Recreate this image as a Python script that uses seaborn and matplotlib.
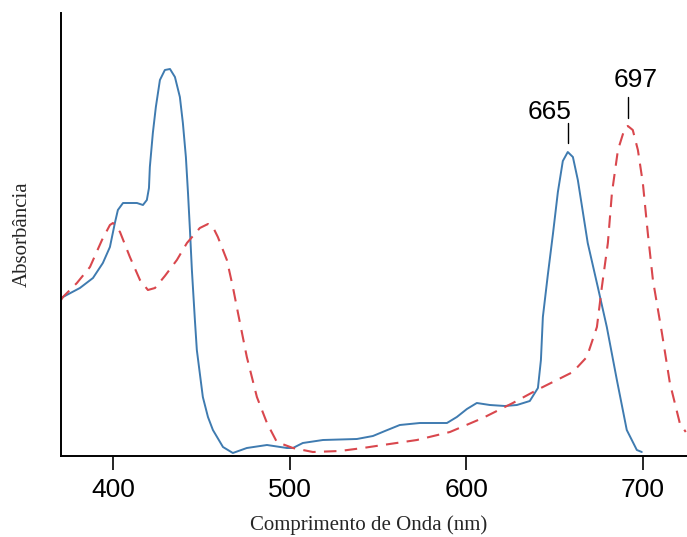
import matplotlib
matplotlib.use("Agg")
import matplotlib.pyplot as plt
import seaborn as sns
import pandas as pd

# Blue (solid) spectrum: wavelength (nm) and absorbance (arbitrary units)
blue_nm = [370.6, 371.7, 381.3, 388.7, 394.3, 398.3, 401.1, 402.8, 405.7, 409.6,
           413.6, 417.0, 419.2, 420.4, 420.9, 422.6, 424.3, 426.6, 429.4, 432.3,
           435.1, 437.9, 439.6, 441.3, 442.5, 443.6, 444.7, 446.4, 447.5, 450.9,
           453.8, 456.6, 462.3, 467.9, 475.8, 487.2, 498.5, 501.9, 507.5, 518.9,
           538.1, 547.2, 554.0, 562.4, 573.8, 589.1, 594.7, 600.4, 606.0, 613.4,
           621.9, 628.7, 636.0, 640.6, 642.3, 643.4, 646.2, 649.1, 651.9, 654.7,
           657.5, 660.4, 663.2, 668.8, 674.5, 679.6, 685.3, 690.9, 696.6, 699.4]
blue_abs = [157, 159, 168, 178, 193, 209, 233, 246, 253, 253,
            253, 251, 256, 268, 289, 323, 349, 376, 386, 387,
            379, 359, 333, 299, 263, 226, 186, 136, 106, 59,
            39, 26, 9, 3, 8, 11, 8, 8, 13, 16,
            17, 20, 25, 31, 33, 33, 39, 47, 53, 51,
            50, 51, 55, 68, 96, 139, 181, 222, 264, 295,
            304, 299, 276, 213, 169, 129, 76, 26, 6, 4]

# Red (dashed) spectrum
red_nm = [370.6, 371.7, 379.6, 387.0, 393.8, 398.3, 400.0, 404.0, 409.6, 415.3,
          419.8, 423.8, 429.4, 436.2, 441.9, 449.2, 453.8, 456.6, 459.4, 464.5,
          467.9, 470.8, 475.8, 481.5, 487.2, 492.8, 501.9, 513.2, 528.5, 541.5,
          552.8, 572.1, 590.8, 609.4, 626.4, 640.0, 660.4, 668.3, 674.0, 676.8,
          680.2, 682.5, 685.9, 689.8, 691.5, 694.3, 697.2, 700.0, 702.8, 705.7,
          710.8, 715.3, 720.9, 724.3]
red_abs = [156, 159, 173, 189, 216, 231, 233, 224, 199, 176,
           166, 168, 180, 196, 213, 228, 232, 229, 219, 196,
           169, 143, 99, 59, 33, 14, 8, 4, 5, 8,
           11, 16, 24, 38, 53, 66, 84, 99, 129, 169,
           213, 263, 306, 328, 330, 326, 306, 273, 223, 176,
           123, 73, 33, 24]

x_ticks = [400, 500, 600, 700]
peak_labels = ["665", "697"]
peak_x = [657.5, 691.5]          # positions of the marker lines (nm)
peak_line_y = [(313, 333), (338, 359)]
peak_text_x = [647.4, 695.7]
peak_text_y = [337, 369]

blue_color = "#3f7bb0"
red_color = "#d9474d"

sns.set_style("ticks")
plt.rcParams["font.family"] = ["Liberation Sans", "DejaVu Sans"]

fig = plt.figure(figsize=(6.87, 5.37), dpi=100)
ax = fig.add_axes([61 / 687, 81 / 537, 626 / 687, 443 / 537])

df_b = pd.DataFrame({"nm": blue_nm, "abs": blue_abs})
df_r = pd.DataFrame({"nm": red_nm, "abs": red_abs})

sns.lineplot(data=df_b, x="nm", y="abs", ax=ax, sort=False, color=blue_color,
             linewidth=1.4, solid_joinstyle="round", solid_capstyle="round")
sns.lineplot(data=df_r, x="nm", y="abs", ax=ax, sort=False, color=red_color,
             linewidth=1.5, linestyle=(0, (6, 4)), dash_joinstyle="round")

for lab, px, (y0, y1), tx, ty in zip(peak_labels, peak_x, peak_line_y,
                                      peak_text_x, peak_text_y):
    ax.plot([px, px], [y0, y1], color="black", linewidth=1.0)
    ax.text(tx, ty, lab, ha="center", va="baseline", fontsize=19,
            color="black")

ax.set_xlim(370.6, 725)
ax.set_ylim(0, 443)
ax.set_xticks(x_ticks)
ax.set_xticklabels([str(t) for t in x_ticks], fontsize=19)
ax.set_yticks([])
ax.tick_params(axis="x", length=10, width=1.2, pad=6, colors="black")
for s in ["top", "right"]:
    ax.spines[s].set_visible(False)
for s in ["left", "bottom"]:
    ax.spines[s].set_linewidth(1.4)
    ax.spines[s].set_color("black")

ax.set_xlabel("Comprimento de Onda (nm)", fontsize=15,
              family=["Liberation Serif", "DejaVu Serif"])
ax.set_ylabel("Absorbância", fontsize=15,
              family=["Liberation Serif", "DejaVu Serif"])
ax.xaxis.set_label_coords(0.492, -0.133)
ax.yaxis.set_label_coords(-0.047, 0.5)

fig.savefig("out.png", dpi=100)
